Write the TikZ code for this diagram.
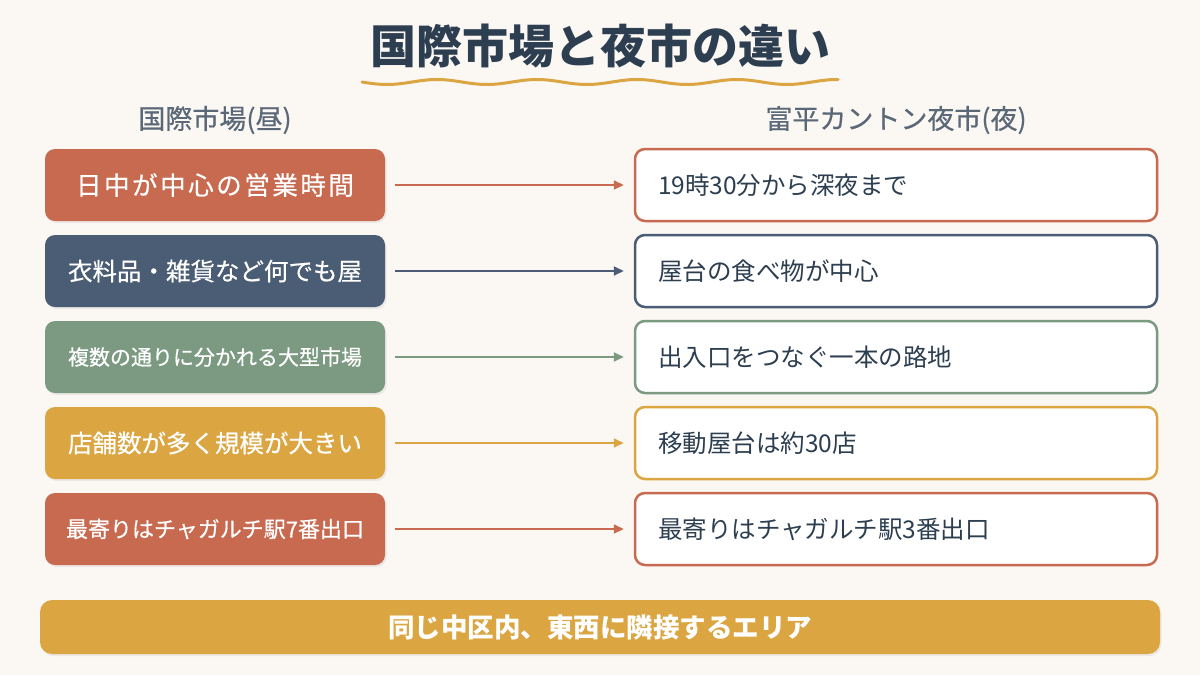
\documentclass[tikz,border=0pt]{standalone}
\usepackage{fontspec}
\setmainfont{Noto Sans CJK JP}
\newfontfamily\medfont[FakeBold=0.5]{Noto Sans CJK JP}
\newfontfamily\medspaced[FakeBold=0.5,LetterSpace=10]{Noto Sans CJK JP}
\usetikzlibrary{arrows.meta,shadows}
\definecolor{bg}{HTML}{FBF7F3}
\definecolor{terra}{HTML}{C86A50}
\definecolor{slate}{HTML}{4A5D74}
\definecolor{sage}{HTML}{7B9A81}
\definecolor{gold}{HTML}{DBA541}
\definecolor{titlec}{HTML}{2C3E50}
\definecolor{headc}{HTML}{5B6877}
\definecolor{bodyc}{HTML}{2C3E50}
\tikzset{
  leftbox/.style={fill=#1, rounded corners=10pt, minimum width=340pt, minimum height=72pt, inner sep=0pt, text=white, align=center,
    drop shadow={shadow xshift=1.5pt, shadow yshift=-2pt, opacity=0.12}},
  rightbox/.style={draw=#1, line width=2.5pt, fill=white, rounded corners=10pt, text width=476pt, inner xsep=23pt, minimum height=72pt, text=bodyc, align=left, font=\fontsize{24.5}{28}\selectfont},
  conn/.style={draw=#1, line width=2pt, -{Triangle[length=10pt,width=9pt]}, shorten <=10pt, shorten >=10pt},
  header/.style={text=headc, font=\medfont\fontsize{27}{30}\selectfont},
}
\begin{document}
\begin{tikzpicture}[x=1pt,y=-1pt]
\fill[bg] (0,0) rectangle (1200,675);
\useasboundingbox (0,0) rectangle (1200,675);
% title
\node[text=titlec, font=\fontsize{46}{52}\selectfont\bfseries] (title) at (600,46) {国際市場と夜市の違い};
\draw[gold, line width=3pt, line cap=round] plot[domain=362:838, samples=120] (\x, {82+2.5*sin((\x-362)*3.6)});
% headers
\node[header] (hl) at (215,120) {国際市場(昼)};
\node[header] (hr) at (896,120) {富平カントン夜市(夜)};
% left boxes
\node[leftbox=terra, font=\medspaced\fontsize{25.5}{28}\selectfont] (l1) at (215,185) {日中が中心の営業時間};
\node[leftbox=slate, font=\medfont\fontsize{24.5}{28}\selectfont] (l2) at (215,271) {衣料品・雑貨など何でも屋};
\node[leftbox=sage, font=\medfont\fontsize{21}{26}\selectfont] (l3) at (215,357) {複数の通りに分かれる大型市場};
\node[leftbox=gold, font=\medfont\fontsize{24.5}{28}\selectfont] (l4) at (215,443) {店舗数が多く規模が大きい};
\node[leftbox=terra, font=\medfont\fontsize{22}{26}\selectfont] (l5) at (215,529) {最寄りはチャガルチ駅7番出口};
% right boxes
\node[rightbox=terra] (r1) at (896,185) {19時30分から深夜まで};
\node[rightbox=slate] (r2) at (896,271) {屋台の食べ物が中心};
\node[rightbox=sage] (r3) at (896,357) {出入口をつなぐ一本の路地};
\node[rightbox=gold] (r4) at (896,443) {移動屋台は約30店};
\node[rightbox=terra] (r5) at (896,529) {最寄りはチャガルチ駅3番出口};
% connectors
\draw[conn=terra] (l1) -- (r1);
\draw[conn=slate] (l2) -- (r2);
\draw[conn=sage] (l3) -- (r3);
\draw[conn=gold] (l4) -- (r4);
\draw[conn=terra] (l5) -- (r5);
% bottom bar
\node[fill=gold, rounded corners=12pt, minimum width=1120pt, minimum height=54pt, text=white, font=\fontsize{26.5}{30}\selectfont\bfseries,
  drop shadow={shadow xshift=1.5pt, shadow yshift=-2pt, opacity=0.12}] (bar) at (600,627) {同じ中区内、東西に隣接するエリア};
\end{tikzpicture}
\end{document}
